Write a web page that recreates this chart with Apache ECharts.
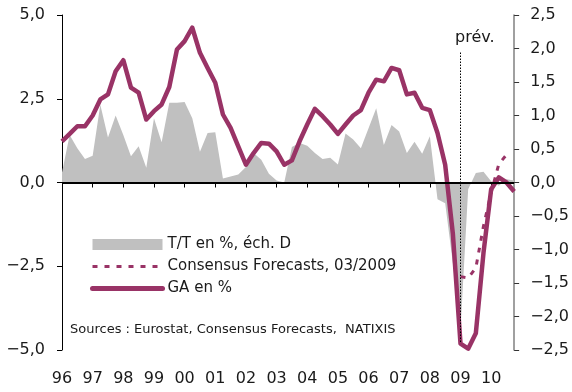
<!DOCTYPE html>
<html>
<head>
<meta charset="utf-8">
<script src="https://cdn.jsdelivr.net/npm/echarts@6/dist/echarts.min.js"></script>
<style>
  html, body { margin: 0; padding: 0; background: #fff; }
  #main { width: 572px; height: 392px; }
</style>
</head>
<body>
<div id="main"></div>
<script>
// années (trimestres T1..T4 de chaque année)
var years = ['96', '97', '98', '99', '00', '01', '02', '03', '04', '05', '06', '07', '08', '09', '10'];
var quarters = [];
years.forEach(function (y) {
  for (var q = 1; q <= 4; q++) quarters.push(y + 'T' + q);
});

// T/T en %, éch. D (axe droit)
var ttValues = [
  0.15, 0.71, 0.51, 0.35, 0.40, 1.16, 0.67, 1.00, 0.71, 0.39,
  0.54, 0.22, 0.96, 0.60, 1.19, 1.19, 1.20, 0.96, 0.46, 0.74,
  0.75, 0.06, 0.09, 0.12, 0.23, 0.44, 0.34, 0.13, 0.03, 0.00,
  0.53, 0.59, 0.55, 0.44, 0.35, 0.37, 0.27, 0.73, 0.64, 0.51,
  0.81, 1.11, 0.56, 0.86, 0.76, 0.44, 0.61, 0.43, 0.69, -0.25,
  -0.31, -1.20, -2.20, -0.10, 0.14, 0.16, 0.02, -0.05, 0.05, 0.03
];

// GA en % (axe gauche)
var gaValues = [
  1.23, 1.45, 1.68, 1.68, 2.00, 2.48, 2.63, 3.32, 3.65, 2.83,
  2.68, 1.88, 2.13, 2.33, 2.85, 3.97, 4.22, 4.62, 3.87, 3.42,
  2.98, 2.03, 1.63, 1.08, 0.53, 0.88, 1.18, 1.16, 0.93, 0.53,
  0.66, 1.23, 1.73, 2.20, 1.98, 1.73, 1.45, 1.73, 2.00, 2.16,
  2.68, 3.07, 3.02, 3.42, 3.35, 2.63, 2.68, 2.23, 2.16, 1.48,
  0.53, -1.52, -4.81, -4.96, -4.50, -2.10, -0.20, 0.15, 0.00, -0.27
];

// Consensus Forecasts, 03/2009 (axe gauche), à partir de 09T1
var consensusStart = 52;
var consensusValues = [-2.81, -2.85, -2.55, -1.30, -0.30, 0.55, 0.83];
var consensusData = quarters.map(function (q, i) {
  var k = i - consensusStart;
  return (k >= 0 && k < consensusValues.length) ? consensusValues[k] : null;
});

// début de la prévision
var prevIndex = 52;
var prevRange = [3.88, -4.8];

var purple = '#993366';
var grey = '#c0c0c0';
var font = 'DejaVu Sans';

function fmt(v) {
  return v.toFixed(1).replace('.', ',').replace('-', '\u2212');
}

var dom = document.getElementById('main');
var myChart = echarts.init(dom, null, { renderer: 'canvas' });

var option = {
  animation: false,
  backgroundColor: '#fff',
  grid: { left: 62, right: 57, top: 15, bottom: 42, containLabel: false },
  title: [
    {
      text: 'prév.',
      left: 450, top: 25,
      textStyle: { fontFamily: font, fontSize: 16, fontWeight: 'normal', color: '#1a1a1a' }
    },
    {
      text: 'Sources : Eurostat, Consensus Forecasts,  NATIXIS',
      left: 65, top: 318,
      textStyle: { fontFamily: font, fontSize: 13, fontWeight: 'normal', color: '#1a1a1a' }
    }
  ],
  legend: {
    orient: 'vertical',
    left: 90, top: 237,
    padding: 0,
    itemWidth: 70, itemHeight: 11,
    itemGap: 7,
    itemTextGap: 9,
    textStyle: { fontFamily: font, fontSize: 15, color: '#1a1a1a' },
    data: [
      { name: 'T/T en %, éch. D', icon: 'rect' },
      { name: 'Consensus Forecasts, 03/2009', itemStyle: { opacity: 0 }, lineStyle: { width: 3, type: [5, 7] } },
      { name: 'GA en %', itemStyle: { opacity: 0 }, lineStyle: { width: 5, cap: 'round' } }
    ]
  },
  xAxis: {
    type: 'category',
    data: quarters,
    boundaryGap: false,
    axisLine: { show: true, lineStyle: { color: '#000', width: 1 } },
    axisTick: { show: true, interval: 3, length: 5, lineStyle: { color: '#000' } },
    axisLabel: {
      interval: 3,
      margin: 21,
      fontFamily: font, fontSize: 16, color: '#1a1a1a',
      formatter: function (v) { return v.slice(0, 2); }
    },
    splitLine: { show: false }
  },
  yAxis: [
    {
      type: 'value',
      min: -5, max: 5, interval: 2.5,
      position: 'left',
      axisLine: { show: true, onZero: false, lineStyle: { color: '#000', width: 1 } },
      axisTick: { show: true, length: 5, lineStyle: { color: '#000' } },
      axisLabel: { margin: 17, fontFamily: font, fontSize: 16, color: '#1a1a1a', formatter: fmt },
      splitLine: { show: false }
    },
    {
      type: 'value',
      min: -2.5, max: 2.5, interval: 0.5,
      position: 'right',
      axisLine: { show: true, onZero: false, lineStyle: { color: '#808080', width: 1.5 } },
      axisTick: { show: true, length: 5, lineStyle: { color: '#333' } },
      axisLabel: { margin: 16, fontFamily: font, fontSize: 16, color: '#1a1a1a', formatter: fmt },
      splitLine: { show: false }
    }
  ],
  series: [
    {
      name: 'T/T en %, éch. D',
      type: 'line',
      yAxisIndex: 1,
      data: ttValues,
      symbol: 'none',
      color: grey,
      lineStyle: { width: 0 },
      areaStyle: { color: grey, opacity: 1 },
      z: 1,
      markLine: {
        silent: true,
        symbol: 'none',
        label: { show: false },
        lineStyle: { color: '#000', width: 2, type: 'solid' },
        data: [{ yAxis: 0 }]
      }
    },
    {
      name: 'Consensus Forecasts, 03/2009',
      type: 'line',
      yAxisIndex: 0,
      data: consensusData,
      symbol: 'none',
      color: purple,
      lineStyle: { width: 3, type: [5, 7] },
      z: 3
    },
    {
      name: 'GA en %',
      type: 'line',
      yAxisIndex: 0,
      data: gaValues,
      symbol: 'none',
      color: purple,
      lineStyle: { width: 4.5, join: 'round' },
      z: 4,
      markLine: {
        silent: true,
        symbol: 'none',
        label: { show: false },
        lineStyle: { color: '#000', width: 1, type: [1.5, 1.5] },
        data: [[
          { coord: [quarters[prevIndex], prevRange[0]] },
          { coord: [quarters[prevIndex], prevRange[1]] }
        ]]
      }
    }
  ]
};

if (option && typeof option === 'object') {
  myChart.setOption(option, true);
}
</script>
</body>
</html>
